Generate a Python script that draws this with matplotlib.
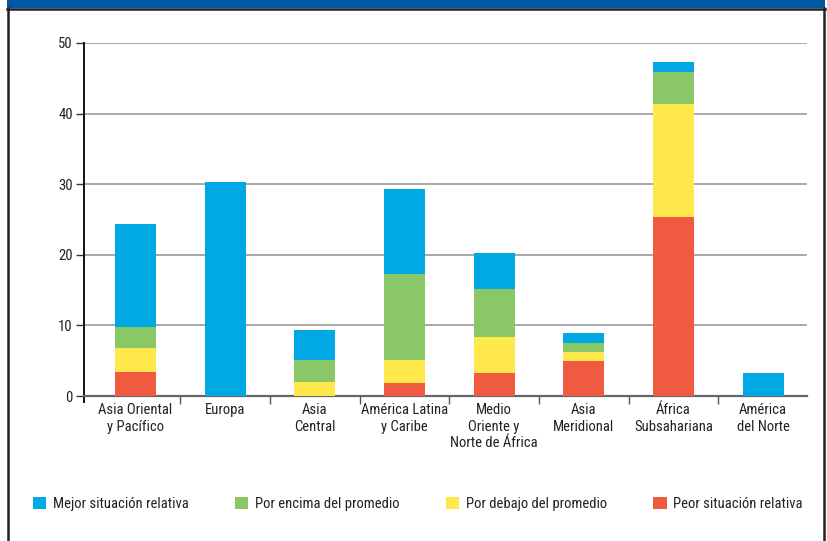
import matplotlib
matplotlib.use("Agg")
import matplotlib.pyplot as plt
from matplotlib.patches import Rectangle
from matplotlib.lines import Line2D
import numpy as np

plt.rcParams['font.family'] = ['Roboto Condensed', 'Archivo Narrow', 'IBM Plex Sans Condensed', 'DejaVu Sans']

categories = ["Asia Oriental\ny Pacífico", "Europa", "Asia\nCentral", "América Latina\ny Caribe",
              "Medio\nOriente y\nNorte de África", "Asia\nMeridional", "África\nSubsahariana",
              "América\ndel Norte"]
peor = [3.4, 0.0, 0.0, 1.85, 3.3, 5.0, 25.3, 0.0]
debajo = [3.4, 0.0, 2.0, 3.25, 5.1, 1.25, 16.0, 0.0]
encima = [3.0, 0.0, 3.1, 12.2, 6.8, 1.25, 4.6, 0.0]
mejor = [14.6, 30.3, 4.3, 12.0, 5.1, 1.45, 1.4, 3.3]

series = [("Mejor situación relativa", mejor, "#00A9E4"),
          ("Por encima del promedio", encima, "#8AC766"),
          ("Por debajo del promedio", debajo, "#FFE84C"),
          ("Peor situación relativa", peor, "#F05A40")]
yticks = [0, 10, 20, 30, 40, 50]

W, H = 827, 541
fig = plt.figure(figsize=(W / 100, H / 100), dpi=100)
ax = fig.add_axes([84 / W, 1 - 396 / H, (807 - 84) / W, (396 - 43) / H])

x = np.arange(len(categories))
bottom = np.zeros(len(categories))
stack_order = [series[3], series[2], series[1], series[0]]
for name, vals, col in stack_order:
    v = np.array(vals)
    ax.bar(x, v, 0.458, bottom=bottom, color=col, zorder=3, linewidth=0)
    bottom += v

ax.set_xlim(-0.575, 7.49)
ax.set_ylim(0, 50)
ax.set_yticks(yticks)
ax.set_yticklabels([str(t) for t in yticks], fontsize=10.5, color="#222222")
ax.tick_params(axis='y', length=6, width=1, color="#333333", pad=2)
for t in yticks[1:]:
    ax.axhline(t, color="#9a9a9a", linewidth=1.2, zorder=1, xmax=0.998)

ax.set_xticks(x)
ax.set_xticklabels(categories, fontsize=10.5, color="#222222", linespacing=1.25)
ax.tick_params(axis='x', which='major', length=0, pad=5)
ax.set_xticks(np.arange(0.5, len(categories) - 0.5, 1), minor=True)
ax.tick_params(axis='x', which='minor', length=6, width=1, color="#555555")

for s in ['top', 'right']:
    ax.spines[s].set_visible(False)
ax.spines['left'].set_color("#111111")
ax.spines['left'].set_linewidth(1.4)
ax.spines['left'].set_bounds(-0.9, 50)
ax.spines['bottom'].set_color("#666666")
ax.spines['bottom'].set_linewidth(1.6)

# frame and header
fig.patches.append(Rectangle((7 / W, 1 - 8 / H), (825 - 7) / W, 8 / H, transform=fig.transFigure,
                             facecolor="#0057A8", edgecolor="none"))
fig.lines.append(Line2D([7 / W, 825 / W], [1 - 9 / H, 1 - 9 / H], transform=fig.transFigure,
                        color="#222222", linewidth=1.8))
fig.lines.append(Line2D([7.5 / W, 7.5 / W], [0, 1 - 8 / H], transform=fig.transFigure,
                        color="#222222", linewidth=1.8))
fig.lines.append(Line2D([824 / W, 824 / W], [0, 1 - 8 / H], transform=fig.transFigure,
                        color="#222222", linewidth=1.8))

handles = [Rectangle((0, 0), 1, 1, facecolor=c, edgecolor="none") for _, _, c in series]
labels = [n for n, _, _ in series]
fig.legend(handles, labels, loc='center left', bbox_to_anchor=(33 / W, 1 - 504 / H), ncol=4,
           frameon=False, fontsize=10.5, handlelength=0.9, handleheight=0.9, handletextpad=0.45,
           columnspacing=3.2, borderpad=0, borderaxespad=0, labelcolor="#222222")

fig.savefig("out.png", dpi=100)
